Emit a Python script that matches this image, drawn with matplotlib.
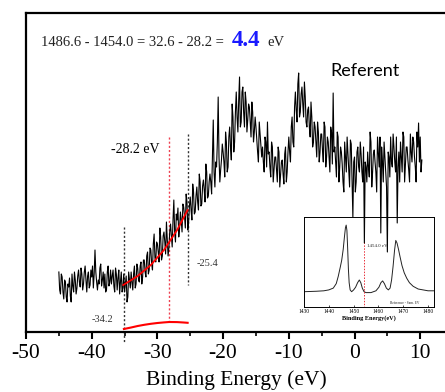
import matplotlib
matplotlib.use("Agg")
import matplotlib.pyplot as plt
import numpy as np

plt.rcParams["axes.unicode_minus"] = False

# ---------------- data ----------------
x_start, x_step = -45.0, 0.125
# values read at 0.25 eV steps
intensity_a = [
    60, 38, 55, 33,   50, 30, 45, 36,   58, 40, 52, 44,   62, 45, 58, 48,
    66, 40, 60, 47,   55, 44, 82, 50,   52, 64, 46, 60,   58, 42, 66, 50,
    48, 62, 40, 58,   54, 38, 60, 44,   40, 56, 35, 52,   60, 42, 66, 48,
    64, 50, 70, 55,   72, 55, 80, 62,   82, 62, 98, 70,   88, 70, 95, 76,
    100, 78, 92, 84,  108, 85, 132, 90, 112, 95, 120, 100, 125, 104, 130, 110,
    135, 112, 140, 120, 145, 122, 150, 128, 152, 130, 160, 136, 158, 138, 212, 145,
    165, 235, 150, 172, 180, 155, 190, 165, 205, 172, 215, 190, 240, 200, 255, 210,
    245, 205, 230, 212, 225, 195, 220, 200, 205, 180, 210, 185, 185, 160, 190, 210,
    180, 155, 185, 162, 175, 150, 180, 158, 172, 148, 185, 160, 195, 170, 215, 185,
    240, 210, 259, 220, 245, 215, 235, 205, 225, 195, 215, 190, 205, 175, 200, 180,
    198, 170, 205, 175, 190, 160, 200, 239, 185, 155, 195, 165, 180, 150, 190, 160,
    178, 145, 188, 115, 175, 150, 185, 160, 178, 150, 89, 165, 180, 155, 190, 160,
    182, 160, 195, 165, 99, 170, 190, 160, 80, 175, 195, 165, 185, 160, 109, 180,
    190, 160, 195, 168, 185, 162, 198, 170, 190, 165, 200, 209, 195, 172,
]
# values read at the points in between
intensity_b = [
    42, 58, 40, 52,   35, 48, 54, 30,   46, 60, 38, 56,   50, 64, 42, 60,
    52, 56, 44, 62,   66, 58, 60, 42,   48, 68, 52, 44,   40, 60, 46, 62,
    56, 46, 64, 42,   62, 50, 40, 58,   48, 30, 60, 44,   50, 58, 44, 68,
    52, 66, 48, 72,   60, 76, 58, 84,   68, 88, 74, 90,   80, 104, 72, 96,
    90, 110, 76, 100, 96, 112, 100, 118, 124, 104, 112, 128, 116, 138, 102, 126,
    122, 148, 118, 136, 130, 158, 126, 146, 142, 168, 134, 150, 150, 175, 160, 170,
    190, 175, 162, 188, 170, 200, 160, 195, 185, 228, 180, 220, 215, 232, 205, 240,
    220, 240, 200, 228, 210, 230, 190, 215, 192, 170, 198, 175, 170, 195, 165, 178,
    165, 190, 150, 175, 162, 185, 145, 170, 158, 178, 150, 180, 180, 205, 190, 225,
    222, 248, 215, 238, 228, 250, 210, 222, 205, 230, 185, 210, 190, 210, 170, 198,
    182, 210, 165, 195, 175, 205, 168, 180, 170, 200, 150, 185, 168, 140, 175, 195,
    160, 192, 150, 170, 140, 180, 165, 190, 160, 185, 170, 150, 165, 200, 145, 178,
    170, 140, 180, 195, 185, 150, 175, 145, 180, 155, 170, 198, 170, 195, 165, 150,
    175, 200, 150, 185, 172, 150, 180, 195, 175, 150, 185, 170, 160,
]

fit_x = [-35.2, -33.0, -31.0, -29.0, -27.0, -25.4]
fit_y = [47, 56, 67, 82, 102, 122]

deriv_x = [-35.1, -34.0, -33.0, -32.0, -31.0, -30.0, -29.0, -28.2, -27.0, -26.0, -25.4]
deriv_y = [3.0, 4.5, 6.0, 7.2, 8.2, 9.0, 9.6, 10.0, 9.9, 9.5, 9.2]

inset_x = [1430, 1435, 1438, 1440, 1441.8, 1443, 1443.8, 1444.6, 1445.2, 1445.8,
           1446.3, 1446.7, 1447.0, 1447.3, 1447.6, 1447.9, 1448.2, 1448.6, 1449.2, 1450,
           1450.8, 1451.6, 1452.3, 1452.9, 1453.5, 1454.2, 1455, 1457, 1459, 1460.2,
           1461, 1461.7, 1462.4, 1463.2, 1464.0, 1464.7, 1465.3, 1465.9, 1466.5, 1467.0,
           1467.5, 1468.1, 1468.7, 1469.5, 1470.4, 1471.4, 1472.5, 1474, 1476, 1478,
           1480, 1482.4]
inset_y = [0.17, 0.175, 0.18, 0.19, 0.21, 0.26, 0.34, 0.44, 0.52, 0.64,
           0.78, 0.88, 0.91, 0.85, 0.65, 0.42, 0.27, 0.19, 0.17, 0.19,
           0.22, 0.27, 0.30, 0.27, 0.21, 0.17, 0.16, 0.16, 0.18, 0.22,
           0.27, 0.29, 0.26, 0.21, 0.19, 0.21, 0.30, 0.45, 0.63, 0.74,
           0.71, 0.64, 0.56, 0.46, 0.38, 0.32, 0.27, 0.23, 0.20, 0.19,
           0.18, 0.18]

main_ticks = [-50, -40, -30, -20, -10, 0, 10]
inset_ticks = [1430, 1440, 1450, 1460, 1470, 1480]

intensity = np.empty(len(intensity_a) + len(intensity_b))
intensity[0::2] = intensity_a
intensity[1::2] = intensity_b
energy = x_start + x_step * np.arange(len(intensity))

# ---------------- figure ----------------
W, H = 445, 392
fig = plt.figure(figsize=(W / 100, H / 100), dpi=100)
serif = ["Liberation Serif", "DejaVu Serif"]

ax = fig.add_axes([26 / W, (H - 332) / H, 420.5 / W, (332 - 13) / H])
ax.set_zorder(2)
ax.patch.set_visible(False)

ax.plot(energy, intensity, color="black", lw=0.8, zorder=3)
ax.plot(fit_x, fit_y, color="red", lw=1.3, zorder=4)
ax.plot(deriv_x, deriv_y, color="red", lw=1.5, zorder=4, clip_on=False)

ax.plot([-35.1, -35.1], [105, -10], color="#333333", lw=1.0, ls=(0, (1.5, 1.5)), clip_on=False, zorder=2)
ax.plot([-28.2, -28.2], [195, 10], color="#ee4050", lw=1.0, ls=(0, (1.5, 1.5)), zorder=2)
ax.plot([-25.4, -25.4], [198, 47], color="#333333", lw=1.0, ls=(0, (1.5, 1.5)), zorder=2)

ax.set_xlim(-50, 14)
ax.set_ylim(0, 319)
ax.set_yticks([])
ax.set_xticks(main_ticks)
ax.set_xticks(np.arange(-45, 14, 10), minor=True)
ax.tick_params(axis="x", which="major", direction="out", length=5, width=1.5, pad=4)
ax.tick_params(axis="x", which="minor", direction="out", length=3, width=1.2)
for lab in ax.get_xticklabels():
    lab.set_fontfamily(serif)
    lab.set_fontsize(15.5)
ax.set_xlabel("Binding Energy (eV)", fontfamily=serif, fontsize=15.5, labelpad=5)
for s in ["left", "bottom", "top"]:
    ax.spines[s].set_linewidth(1.6)
ax.spines["right"].set_visible(False)

# texts
ax.text(-47.7, 286, "1486.6 - 1454.0 = 32.6 - 28.2 = ", fontfamily=serif, fontsize=10.5,
        color="#222222", va="baseline", ha="left")
ax.text(-18.65, 286, "4.4", fontfamily=serif, fontsize=16.5, fontweight="bold",
        color="#1a1aff", va="baseline", ha="left")
ax.text(-13.2, 286, "eV", fontfamily=serif, fontsize=10.5, color="#222222",
        va="baseline", ha="left")
ax.text(-3.6, 256, "Referent", fontfamily=["Lato", "DejaVu Sans"], fontsize=13,
        color="black", va="baseline", ha="left")
ax.text(-37.06, 179, "-28.2 eV", fontfamily=serif, fontsize=10, color="black",
        va="baseline", ha="left")
ax.text(-24.0, 68, "-25.4", fontfamily=serif, fontsize=7.5, color="#333333",
        va="center", ha="left")
ax.text(-39.95, 13, "-34.2", fontfamily=serif, fontsize=7.5, color="#333333",
        va="center", ha="left")

# inset
ins = fig.add_axes([304 / W, (H - 307) / H, 130 / W, 90 / H])
ins.set_zorder(1)
ins.plot(inset_x, inset_y, color="#222222", lw=0.7)
ins.plot([1454, 1454], [0.72, 0], color="#e8303a", lw=0.7, ls=(0, (1.5, 1.5)))
ins.set_xlim(1430, 1482.4)
ins.set_ylim(0, 1)
ins.set_yticks([])
ins.set_xticks(inset_ticks)
ins.tick_params(axis="x", direction="in", length=1.5, width=0.5, pad=1.5, labelsize=4)
for lab in ins.get_xticklabels():
    lab.set_fontfamily(serif)
for s in ins.spines.values():
    s.set_linewidth(0.7)
ins.set_xlabel("Binding Energy(eV)", fontfamily=serif, fontsize=4.5, labelpad=1,
               fontweight="bold")
ins.text(1455.3, 0.68, "1454.0 eV", fontfamily=serif, fontsize=3.5, color="#222222",
         va="center", ha="left")
ins.text(1470.5, 0.04, "Reference - Sam. EV", fontfamily=serif, fontsize=2.5,
         color="#222222", va="center", ha="center")

fig.savefig("out.png", dpi=100)
